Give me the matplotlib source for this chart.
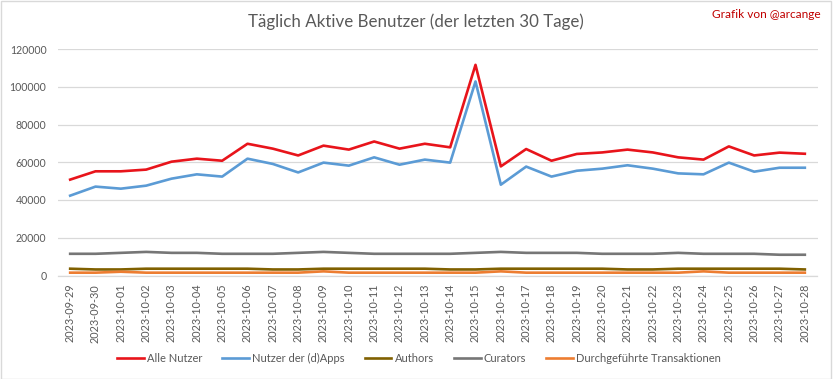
import numpy as np
import matplotlib
matplotlib.use("Agg")
import matplotlib.pyplot as plt
from matplotlib.patches import Rectangle

plt.rcParams["font.family"] = ["Lato", "DejaVu Sans"]

dates = [
    "2023-09-29", "2023-09-30", "2023-10-01", "2023-10-02", "2023-10-03",
    "2023-10-04", "2023-10-05", "2023-10-06", "2023-10-07", "2023-10-08",
    "2023-10-09", "2023-10-10", "2023-10-11", "2023-10-12", "2023-10-13",
    "2023-10-14", "2023-10-15", "2023-10-16", "2023-10-17", "2023-10-18",
    "2023-10-19", "2023-10-20", "2023-10-21", "2023-10-22", "2023-10-23",
    "2023-10-24", "2023-10-25", "2023-10-26", "2023-10-27", "2023-10-28",
]

alle_nutzer = [
    50800, 55200, 55200, 56100, 60300, 61900, 60800, 69800, 67200, 63600,
    68800, 66700, 71000, 67200, 69800, 67900, 111600, 57800, 67000, 60800,
    64400, 65200, 66700, 65200, 62600, 61400, 68400, 63600, 65100, 64500,
]
dapps = [
    42300, 47100, 46000, 47600, 51300, 53600, 52400, 61900, 59100, 54600,
    59800, 58200, 62600, 58700, 61400, 59800, 102800, 48100, 57700, 52400,
    55500, 56600, 58400, 56600, 54100, 53600, 59800, 55000, 57100, 57100,
]
authors = [
    3600, 3200, 3200, 3600, 3600, 3600, 3600, 3600, 3200, 3200,
    3600, 3600, 3600, 3600, 3600, 3200, 3200, 3600, 3600, 3600,
    3600, 3600, 3200, 3200, 3600, 3600, 3600, 3600, 3600, 3200,
]
curators = [
    11500, 11500, 12000, 12500, 12000, 12000, 11500, 11500, 11500, 12000,
    12500, 12000, 11500, 11500, 11500, 11500, 12000, 12500, 12000, 12000,
    12000, 11500, 11500, 11500, 12000, 11500, 11500, 11500, 11000, 11000,
]
transaktionen = [
    1500, 1500, 2000, 1500, 1500, 1500, 1500, 1500, 1500, 1500,
    2200, 1500, 1500, 1500, 1500, 1500, 1500, 2200, 1500, 1500,
    1500, 1500, 1500, 1500, 1500, 2200, 1500, 1500, 1500, 1500,
]

series = [
    ("Alle Nutzer", alle_nutzer, "#E8141B"),
    ("Nutzer der (d)Apps", dapps, "#5B9BD5"),
    ("Authors", authors, "#806000"),
    ("Curators", curators, "#767676"),
    ("Durchgeführte Transaktionen", transaktionen, "#ED7D31"),
]

text_gray = "#595959"
grid_gray = "#D9D9D9"

fig = plt.figure(figsize=(8.33, 3.79), dpi=100)
ax = fig.add_axes([57.5 / 833, 1 - 275.5 / 379, 760 / 833, 226.5 / 379])

x = np.arange(len(dates))
for label, vals, color in series:
    ax.plot(x, vals, color=color, lw=1.9, label=label, solid_joinstyle="round")

ax.set_xlim(-0.5, len(dates) - 0.5)
ax.set_ylim(0, 120000)
ax.set_yticks(np.arange(0, 120001, 20000))
ax.set_xticks(x)
ax.set_xticklabels(dates, rotation=90, fontsize=7.8, color=text_gray)
ax.tick_params(axis="y", labelsize=7.6, colors=text_gray, length=0, pad=8)
ax.tick_params(axis="x", length=0, pad=6)
ax.grid(axis="y", color=grid_gray, lw=0.9)
ax.set_axisbelow(True)
for s in ["top", "right", "left"]:
    ax.spines[s].set_visible(False)
ax.spines["bottom"].set_color(grid_gray)
ax.spines["bottom"].set_linewidth(0.9)

fig.text(416 / 833, 1 - 22 / 379, "Täglich Aktive Benutzer (der letzten 30 Tage)",
         ha="center", va="center", fontsize=12.2, color=text_gray)
fig.text(821 / 833, 1 - 14 / 379, "Grafik von @arcange",
         ha="right", va="center", fontsize=8.6, color="#C00000")

fig.legend(loc="center", bbox_to_anchor=(419 / 833, 1 - 358 / 379), ncol=5,
           frameon=False, fontsize=8, handlelength=2.4, handletextpad=0.3,
           columnspacing=1.8, labelcolor=text_gray)

fig.patches.append(Rectangle((0.001, 0.001), 0.997, 0.996, transform=fig.transFigure,
                             fill=False, edgecolor="#D9D9D9", lw=1))

fig.savefig("out.png", dpi=100)
